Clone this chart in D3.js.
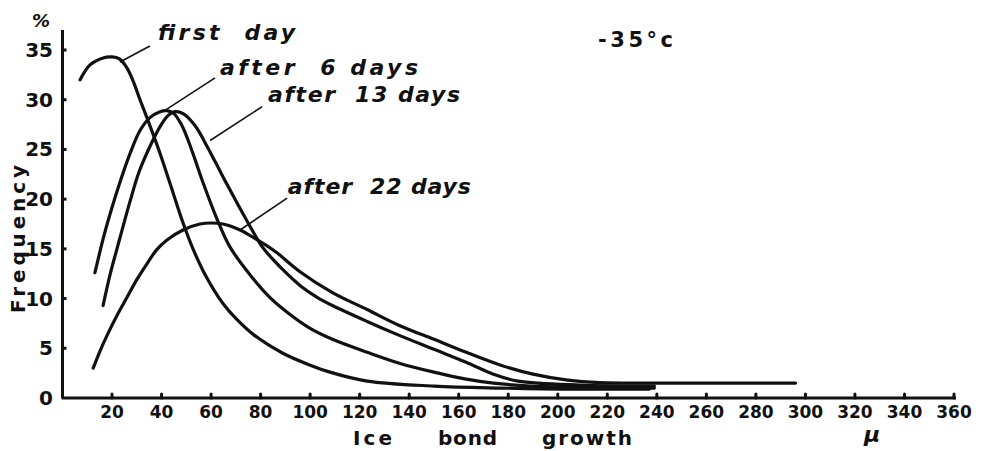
<!DOCTYPE html>
<html>
<head>
<meta charset="utf-8">
<script src="https://cdn.jsdelivr.net/npm/d3@7"></script>
<style>
  body { margin: 0; background: #fff; }
  svg text { fill: #111; font-family: "DejaVu Sans", sans-serif; font-weight: bold; }
</style>
</head>
<body>
<div id="chart"></div>
<script>
// Chart size
const width = 981;
const height = 451;

// Tick values
const xTicks = [20, 40, 60, 80, 100, 120, 140, 160, 180, 200, 220, 240, 260, 280, 300, 320, 340, 360];
const yTicks = [0, 5, 10, 15, 20, 25, 30, 35];

// Series: [ice bond growth (µ), frequency (%)]
const firstDay = [
  [7.1, 32.0], [11.1, 33.5], [16.4, 34.2], [20, 34.3], [23, 34.1], [26, 33.2], [28.5, 31.9],
  [31.3, 30.0], [35.3, 27.4], [39.4, 24.6], [43.4, 21.6], [48.7, 17.6], [52.7, 15.0],
  [57.6, 12.4], [64.8, 9.5], [70, 8.0], [77, 6.4], [89, 4.5], [100, 3.3], [108, 2.6],
  [123, 1.7], [150, 1.2], [177, 1.0], [201, 0.9], [237, 0.9]
];
const after6 = [
  [13.1, 12.6], [16.4, 16.0], [19.2, 18.5], [23.2, 21.7], [27.3, 24.6], [31.3, 26.9],
  [35.3, 28.2], [39.4, 28.8], [42.2, 28.9], [45, 28.6], [48, 27.5], [50.3, 26.2],
  [53.5, 24.0], [56.7, 21.7], [62.4, 18.0], [67.6, 15.2], [75.7, 12.4], [83.8, 10.1],
  [91.9, 8.4], [100, 7.0], [109, 5.9], [123, 4.6], [136, 3.5], [150, 2.6], [163, 1.9],
  [174, 1.5], [189, 1.2], [217, 1.05], [239, 1.0]
];
const after13 = [
  [16.4, 9.3], [19.2, 12.4], [22, 15.0], [27.3, 19.8], [31, 22.8], [35.3, 25.3],
  [39.4, 27.3], [42.6, 28.4], [45.4, 28.8], [48.7, 28.6], [53.5, 27.4], [58.4, 25.3],
  [62, 23.6], [66.4, 21.5], [74.5, 17.8], [81, 15.1], [89, 12.9], [96, 11.3], [103, 10.1],
  [109, 9.3], [123, 7.7], [136, 6.3], [150, 4.9], [163, 3.6], [174, 2.4], [184, 1.7],
  [209, 1.3], [239, 1.2]
];
const after22 = [
  [12.4, 3.0], [15.1, 4.7], [18, 6.3], [22, 8.3], [26, 10.1], [30, 11.9], [34.1, 13.5],
  [38, 14.9], [42.2, 15.9], [48.7, 16.9], [55.5, 17.5], [60, 17.6], [64.8, 17.5],
  [71.7, 16.9], [78, 16.0], [82.6, 15.3], [86.6, 14.6], [95.9, 12.7], [109, 10.6],
  [123, 8.9], [136, 7.3], [150, 5.9], [163, 4.6], [177, 3.3], [190, 2.4], [204, 1.8],
  [217, 1.55], [237, 1.5], [296, 1.5]
];

// Curve labels: text, leader line from/to and text anchor (data units), drawn width
const labels = [
  { text: "first  day", from: [23.2, 33.8], to: [35.3, 35.4], at: [38.6, 36.0], w: 137 },
  { text: "after  6 days", from: [40.6, 28.8], to: [61.6, 32.2], at: [63.6, 32.5], w: 198 },
  { text: "after  13 days", from: [59.6, 25.9], to: [80.6, 29.3], at: [83, 29.8], w: 192 },
  { text: "after  22 days", from: [71.7, 16.9], to: [90.7, 20.1], at: [91, 20.5], w: 183 }
];

const svg = d3.select("#chart")
    .append("svg")
    .attr("width", width)
    .attr("height", height);

const x = d3.scaleLinear().domain([0, 360]).range([62.5, 954]);
const y = d3.scaleLinear().domain([0, 35]).range([398, 50]);

// Axis lines
svg.append("line")
    .attr("x1", x(0)).attr("x2", x(0))
    .attr("y1", 30).attr("y2", y(0))
    .attr("stroke", "#111").attr("stroke-width", 3);

svg.append("line")
    .attr("x1", x(0) - 1).attr("x2", x(360) + 2)
    .attr("y1", y(0)).attr("y2", y(0))
    .attr("stroke", "#111").attr("stroke-width", 3);

// Y ticks
svg.selectAll("line.ytick")
    .data(yTicks.filter(d => d > 0))
    .join("line")
    .attr("class", "ytick")
    .attr("x1", x(0)).attr("x2", x(0) + 4)
    .attr("y1", d => y(d)).attr("y2", d => y(d))
    .attr("stroke", "#111").attr("stroke-width", 3);

svg.selectAll("text.ylab")
    .data(yTicks)
    .join("text")
    .attr("class", "ylab")
    .attr("x", 53)
    .attr("y", d => y(d) + 7)
    .attr("text-anchor", "end")
    .attr("font-size", 20)
    .text(d => d);

// X ticks
svg.selectAll("line.xtick")
    .data(xTicks)
    .join("line")
    .attr("class", "xtick")
    .attr("x1", d => x(d)).attr("x2", d => x(d))
    .attr("y1", y(0)).attr("y2", y(0) - 4)
    .attr("stroke", "#111").attr("stroke-width", 3)
    .attr("stroke-linecap", "round");

svg.selectAll("text.xlab")
    .data(xTicks)
    .join("text")
    .attr("class", "xlab")
    .attr("x", d => x(d))
    .attr("y", 418)
    .attr("text-anchor", "middle")
    .attr("font-size", 17)
    .text(d => d);

// Curves
const line = d3.line()
    .x(d => x(d[0]))
    .y(d => y(d[1]))
    .curve(d3.curveCatmullRom.alpha(0.5));

svg.selectAll("path.series")
    .data([firstDay, after6, after13, after22])
    .join("path")
    .attr("class", "series")
    .attr("d", line)
    .attr("fill", "none")
    .attr("stroke", "#111")
    .attr("stroke-width", 3.2)
    .attr("stroke-linecap", "round")
    .attr("stroke-linejoin", "round");

// Leader lines and labels
svg.selectAll("line.leader")
    .data(labels)
    .join("line")
    .attr("class", "leader")
    .attr("x1", d => x(d.from[0])).attr("y1", d => y(d.from[1]))
    .attr("x2", d => x(d.to[0])).attr("y2", d => y(d.to[1]))
    .attr("stroke", "#111").attr("stroke-width", 1.6);

svg.selectAll("text.curvelab")
    .data(labels)
    .join("text")
    .attr("class", "curvelab")
    .attr("x", d => x(d.at[0]))
    .attr("y", d => y(d.at[1]))
    .attr("font-size", 22)
    .attr("font-style", "italic")
    .attr("textLength", d => d.w)
    .attr("lengthAdjust", "spacing")
    .style("white-space", "pre")
    .text(d => d.text);

svg.append("text")
    .attr("x", 598).attr("y", 47)
    .attr("font-size", 21)
    .attr("textLength", 75)
    .attr("lengthAdjust", "spacing")
    .text("-35°c");

// Axis titles
svg.append("text")
    .attr("x", 32).attr("y", 27)
    .attr("font-size", 18)
    .attr("font-style", "italic")
    .text("%");

svg.append("text")
    .attr("transform", "translate(25,239) rotate(-90)")
    .attr("text-anchor", "middle")
    .attr("font-size", 20)
    .attr("textLength", 148)
    .attr("lengthAdjust", "spacing")
    .text("Frequency");

svg.selectAll("text.xtitle")
    .data([["Ice", 353, 39], ["bond", 438, 59], ["growth", 542, 90]])
    .join("text")
    .attr("class", "xtitle")
    .attr("x", d => d[1])
    .attr("y", 445)
    .attr("font-size", 20)
    .attr("textLength", d => d[2])
    .attr("lengthAdjust", "spacing")
    .text(d => d[0]);

svg.append("text")
    .attr("x", 864).attr("y", 442)
    .attr("font-size", 22)
    .attr("font-style", "italic")
    .text("µ");
</script>
</body>
</html>
